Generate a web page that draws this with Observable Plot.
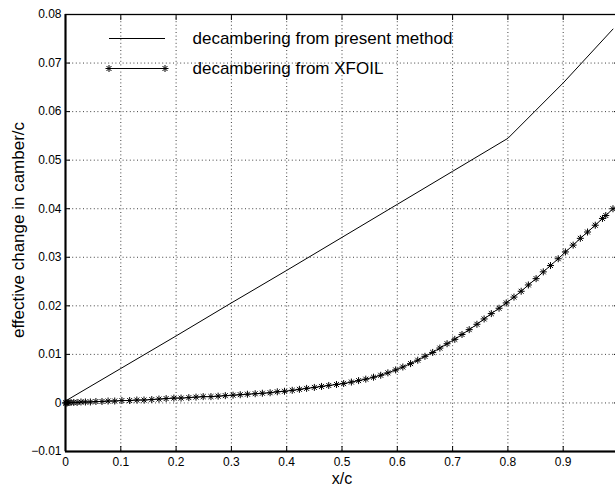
<!DOCTYPE html>
<html>
<head>
<meta charset="utf-8">
<script src="https://cdn.jsdelivr.net/npm/d3@7"></script>
<script src="https://cdn.jsdelivr.net/npm/@observablehq/plot@0.6"></script>
<style>
  html, body { margin: 0; padding: 0; background: #fff; }
  #chart svg { display: block; }
</style>
</head>
<body>
<div id="chart"></div>
<script>
// ---- data ----
const presentX = [0, 0.1, 0.2, 0.3, 0.4, 0.5, 0.6, 0.7, 0.8, 0.9, 0.99];
const presentY = [0.0004, 0.0071, 0.0138, 0.0206, 0.0273, 0.0341, 0.0409, 0.0477, 0.0545, 0.0659, 0.0770];

const xfoilX = [0, 0.001, 0.003, 0.006, 0.010, 0.015, 0.021, 0.028, 0.036, 0.045, 0.055, 0.066, 0.077,
  0.089, 0.102, 0.116, 0.129, 0.142, 0.156, 0.169, 0.182, 0.196, 0.209, 0.223, 0.236, 0.249, 0.263,
  0.276, 0.289, 0.303, 0.316, 0.329, 0.343, 0.356, 0.370, 0.383, 0.396, 0.410, 0.423, 0.436, 0.450,
  0.463, 0.476, 0.490, 0.503, 0.517, 0.530, 0.543, 0.557, 0.570, 0.583, 0.597, 0.610, 0.624, 0.637,
  0.650, 0.664, 0.677, 0.690, 0.704, 0.717, 0.730, 0.744, 0.757, 0.770, 0.784, 0.797, 0.811, 0.824,
  0.837, 0.851, 0.864, 0.877, 0.891, 0.904, 0.918, 0.931, 0.944, 0.958, 0.971, 0.977, 0.990];
const xfoilY = [0, 0.0000, 0.0000, 0.0001, 0.0001, 0.0001, 0.0001, 0.0002, 0.0002, 0.0002, 0.0003, 0.0003, 0.0004,
  0.0004, 0.0005, 0.0005, 0.0006, 0.0006, 0.0007, 0.0008, 0.0009, 0.0010, 0.0010, 0.0011, 0.0012, 0.0013, 0.0013,
  0.0014, 0.0015, 0.0016, 0.0017, 0.0018, 0.0019, 0.0020, 0.0021, 0.0023, 0.0024, 0.0026, 0.0028, 0.0030, 0.0032,
  0.0034, 0.0036, 0.0038, 0.0040, 0.0043, 0.0046, 0.0049, 0.0053, 0.0057, 0.0062, 0.0068, 0.0074, 0.0081, 0.0088,
  0.0096, 0.0104, 0.0113, 0.0122, 0.0131, 0.0141, 0.0151, 0.0162, 0.0173, 0.0184, 0.0195, 0.0206, 0.0218, 0.0230,
  0.0243, 0.0256, 0.0270, 0.0283, 0.0297, 0.0311, 0.0325, 0.0339, 0.0352, 0.0366, 0.0380, 0.0386, 0.0400];

const xDomain = [0, 1];
const yDomain = [-0.01, 0.08];
const xTicks = [0, 0.1, 0.2, 0.3, 0.4, 0.5, 0.6, 0.7, 0.8, 0.9];
const yTicks = [-0.01, 0, 0.01, 0.02, 0.03, 0.04, 0.05, 0.06, 0.07, 0.08];
const legendLabels = ["decambering from present method", "decambering from XFOIL"];
const xLabel = "x/c";
const yLabel = "effective change in camber/c";

// ---- build tables ----
const present = presentX.map((x, i) => ({x, y: presentY[i]}));
const xfoil = xfoilX.map((x, i) => ({x, y: xfoilY[i]}));

const FONT = "'Liberation Sans', Arial, Helvetica, sans-serif";

// MATLAB-like 8-armed asterisk marker
const star8 = {
  draw(ctx) {
    const r = 3.5, d = r * Math.SQRT1_2;
    ctx.moveTo(-r, 0); ctx.lineTo(r, 0);
    ctx.moveTo(0, -r); ctx.lineTo(0, r);
    ctx.moveTo(-d, -d); ctx.lineTo(d, d);
    ctx.moveTo(-d, d); ctx.lineTo(d, -d);
  }
};

const fmtX = d => d === 0 ? "0" : d3.format(".1f")(d);
const fmtY = d => d === 0 ? "0" : d3.format(".2f")(d);
const blank = () => "";

function legendMark(index, scales, values, dims) {
  const g = d3.create("svg:g").attr("font-family", FONT);
  const L = dims.marginLeft, T = dims.marginTop;
  const rows = [
    {y: T + 24.5, label: legendLabels[0], marker: false},
    {y: T + 54.5, label: legendLabels[1], marker: true}
  ];
  for (const r of rows) {
    g.append("line").attr("x1", L + 44).attr("x2", L + 100).attr("y1", r.y).attr("y2", r.y)
      .attr("stroke", "black").attr("stroke-width", 1);
    if (r.marker) {
      for (const mx of [L + 44, L + 100]) {
        g.append("path").attr("d", d3.symbol(star8)()).attr("transform", `translate(${mx},${r.y})`)
          .attr("stroke", "black").attr("fill", "none");
      }
    }
    g.append("text").attr("x", L + 127.5).attr("y", r.y).attr("dy", "0.35em")
      .attr("text-anchor", "start")
      .attr("font-size", 17).attr("fill", "black").text(r.label);
  }
  return g.node();
}

const chart = Plot.plot({
  width: 615,
  height: 487,
  marginLeft: 65,
  marginRight: -3,
  marginTop: 14,
  marginBottom: 36,
  style: {fontFamily: FONT, fontSize: "12px", background: "#fff", color: "black"},
  x: {domain: xDomain},
  y: {domain: yDomain},
  marks: [
    Plot.gridX(xTicks, {stroke: "black", strokeOpacity: 0.75, strokeDasharray: "1,2.6"}),
    Plot.gridY(yTicks, {stroke: "black", strokeOpacity: 0.75, strokeDasharray: "1,2.6"}),
    Plot.frame({stroke: "black", strokeWidth: 1.3}),
    // inward ticks on all four sides
    Plot.axisX(xTicks, {anchor: "bottom", tickSize: -5, tickFormat: blank, label: null}),
    Plot.axisX(xTicks, {anchor: "top", tickSize: -5, tickFormat: blank, label: null}),
    Plot.axisY(yTicks, {anchor: "left", tickSize: -5, tickFormat: blank, label: null}),
    Plot.axisY(yTicks, {anchor: "right", tickSize: -5, tickFormat: blank, label: null}),
    // tick labels
    Plot.axisX(xTicks, {anchor: "bottom", tickSize: 0, tickPadding: 6, tickFormat: fmtX, label: null, fontSize: 12}),
    Plot.axisY(yTicks, {anchor: "left", tickSize: 0, tickPadding: 4, tickFormat: fmtY, label: null, fontSize: 12}),
    // thick left and bottom axis lines
    Plot.ruleX([xDomain[0]], {stroke: "black", strokeWidth: 2}),
    Plot.ruleY([yDomain[0]], {stroke: "black", strokeWidth: 2}),
    // series
    Plot.line(present, {x: "x", y: "y", stroke: "black", strokeWidth: 1}),
    Plot.line(xfoil, {x: "x", y: "y", stroke: "black", strokeWidth: 1}),
    Plot.dot(xfoil, {x: "x", y: "y", symbol: star8, stroke: "black", strokeWidth: 1, fill: "none"}),
    // axis titles
    Plot.text([xLabel], {text: d => d, frameAnchor: "bottom", lineAnchor: "middle", textAnchor: "middle", dy: 27.5, fontSize: 16, fill: "black"}),
    Plot.text([yLabel], {text: d => d, frameAnchor: "left", lineAnchor: "middle", textAnchor: "middle", dx: -47, dy: -3, rotate: -90, fontSize: 17, fill: "black"}),
    legendMark
  ]
});
document.getElementById("chart").appendChild(chart);
</script>
</body>
</html>
